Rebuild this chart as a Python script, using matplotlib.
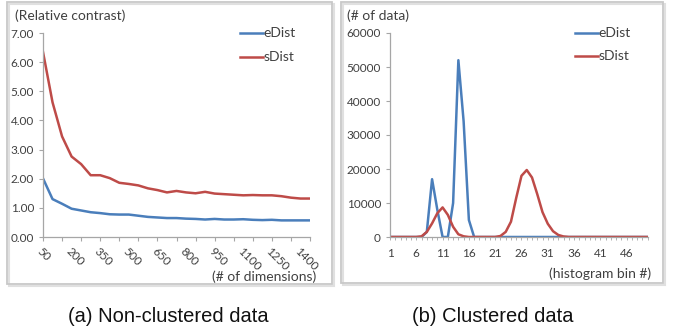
import matplotlib
matplotlib.use("Agg")
import matplotlib.pyplot as plt
from matplotlib.patches import Rectangle
import numpy as np

# ---- data: panel (a) ----
dims = list(range(50, 1451, 50))
a_edist = [2.01, 1.30, 1.14, 0.97, 0.91, 0.85, 0.82, 0.78, 0.77, 0.77, 0.73, 0.69, 0.67, 0.65, 0.65,
           0.63, 0.62, 0.60, 0.62, 0.60, 0.60, 0.61, 0.59, 0.58, 0.59, 0.57, 0.57, 0.57, 0.57]
a_sdist = [6.35, 4.62, 3.45, 2.76, 2.50, 2.12, 2.12, 2.02, 1.86, 1.82, 1.77, 1.67, 1.61, 1.53, 1.58,
           1.53, 1.50, 1.55, 1.49, 1.47, 1.45, 1.43, 1.44, 1.43, 1.43, 1.40, 1.35, 1.32, 1.32]
a_yticks = [0, 1, 2, 3, 4, 5, 6, 7]

# ---- data: panel (b) ----
bins = list(range(1, 51))
b_edist = [0, 0, 0, 0, 0, 0, 0, 1500, 17000, 8000, 0, 0, 10000, 52000, 34000, 5000, 0] + [0] * 33
b_sdist = ([0, 0, 0, 0, 0, 0, 200, 1500, 4000, 7000, 8700, 6500, 3000, 800, 200,
            0, 0, 0, 0, 0, 0, 300, 1500, 4500, 11500, 18000, 19700, 17500, 12600, 7300,
            3900, 1700, 600, 150] + [0] * 16)
b_yticks = [0, 10000, 20000, 30000, 40000, 50000, 60000]

BLUE = "#4a7ebb"
RED = "#be4b48"
TXT = "#404040"
AX = "#a6a6a6"
FONT = "Lato"
TICK_FS = 8.5
LAB_FS = 10

W, H = 678, 330
fig = plt.figure(figsize=(W / 100, H / 100), dpi=100)

def fx(px):
    return px / W

def fy(py):
    return 1 - py / H

# panel boxes
for (x0, y0, x1, y1) in [(7, 2, 332, 284), (341, 2, 663, 283)]:
    fig.patches.append(Rectangle((fx(x0 + 1.5), fy(y1 + 1.5)), fx(x1 - x0), (y1 - y0) / H,
                                 transform=fig.transFigure, fill=False, edgecolor="#e0e0e0", lw=1.5))
    fig.patches.append(Rectangle((fx(x0), fy(y1)), fx(x1 - x0), (y1 - y0) / H,
                                 transform=fig.transFigure, fill=False, edgecolor="#c8c8c8", lw=1.3))

def style(ax):
    for s in ["top", "right"]:
        ax.spines[s].set_visible(False)
    for s in ["left", "bottom"]:
        ax.spines[s].set_color(AX)
        ax.spines[s].set_linewidth(0.9)
    ax.tick_params(axis="both", which="both", colors=AX, labelcolor=TXT, labelsize=TICK_FS,
                   length=3, width=0.8)
    for lab in ax.get_xticklabels() + ax.get_yticklabels() + ax.get_xticklabels(minor=True):
        lab.set_fontfamily(FONT)
    ax.patch.set_alpha(0)

# ---- panel (a) ----
axa = fig.add_axes([fx(43), fy(237), fx(310) - fx(43), (237 - 33) / H])
axa.xaxis.remove_overlapping_locs = False
xa = np.arange(len(dims))
axa.plot(xa, a_edist, color=BLUE, lw=1.8, label="eDist")
axa.plot(xa, a_sdist, color=RED, lw=1.8, label="sDist")
axa.set_xlim(0, len(dims) - 1)
axa.set_ylim(0, 7)
axa.set_yticks(a_yticks)
axa.set_yticklabels([f"{v:.2f}" for v in a_yticks])
# major: labels every 3 categories (no marks); minor: marks every 2 categories
axa.set_xticks(xa[::3])
axa.set_xticklabels([str(dims[i]) for i in xa[::3]], rotation=-45,
                    ha="left", va="top", rotation_mode="anchor")
axa.set_xticks(xa[::2], minor=True)
style(axa)
axa.tick_params(axis="x", which="major", length=0, pad=6)
axa.tick_params(axis="x", which="minor", length=3)

# ---- panel (b) ----
axb = fig.add_axes([fx(390), fy(237), fx(647.7) - fx(390), (237 - 33) / H])
axb.xaxis.remove_overlapping_locs = False
axb.plot(bins, b_edist, color=BLUE, lw=1.8, label="eDist")
axb.plot(bins, b_sdist, color=RED, lw=1.8, label="sDist")
axb.set_xlim(1, 50)
axb.set_ylim(0, 60000)
axb.set_yticks(b_yticks)
axb.set_yticklabels([str(v) for v in b_yticks])
axb.set_xticks(bins[::5])
axb.set_xticks(bins, minor=True)
style(axb)
axb.tick_params(axis="x", which="major", length=0, pad=8)
axb.tick_params(axis="x", which="minor", length=2, width=0.6)

# legends (manual, figure coords)
def legend(x0, ys):
    for (y, col, name) in ys:
        fig.add_artist(plt.Line2D([fx(x0), fx(x0 + 23)], [fy(y), fy(y)], color=col, lw=1.8,
                                  transform=fig.transFigure))
        fig.text(fx(x0 + 23.5), fy(y), name, ha="left", va="center", fontsize=LAB_FS,
                 color=TXT, family=FONT)

legend(240, [(33.3, BLUE, "eDist"), (56.7, RED, "sDist")])
legend(575, [(33.3, BLUE, "eDist"), (55.7, RED, "sDist")])

fig.text(fx(15), fy(15.5), "(Relative contrast)", ha="left", va="center", fontsize=LAB_FS,
         color=TXT, family=FONT)
fig.text(fx(316), fy(276.5), "(# of dimensions)", ha="right", va="center", fontsize=LAB_FS,
         color=TXT, family=FONT)
fig.text(fx(347), fy(15.5), "(# of data)", ha="left", va="center", fontsize=LAB_FS,
         color=TXT, family=FONT)
fig.text(fx(651.5), fy(273.5), "(histogram bin #)", ha="right", va="center", fontsize=LAB_FS,
         color=TXT, family=FONT)

fig.text(fx(168), fy(316), "(a) Non-clustered data", ha="center", va="center", fontsize=14.5,
         color="#111111", family="Liberation Sans")
fig.text(fx(492.5), fy(316), "(b) Clustered data", ha="center", va="center", fontsize=14.5,
         color="#111111", family="Liberation Sans")

fig.savefig("out.png", dpi=100)
